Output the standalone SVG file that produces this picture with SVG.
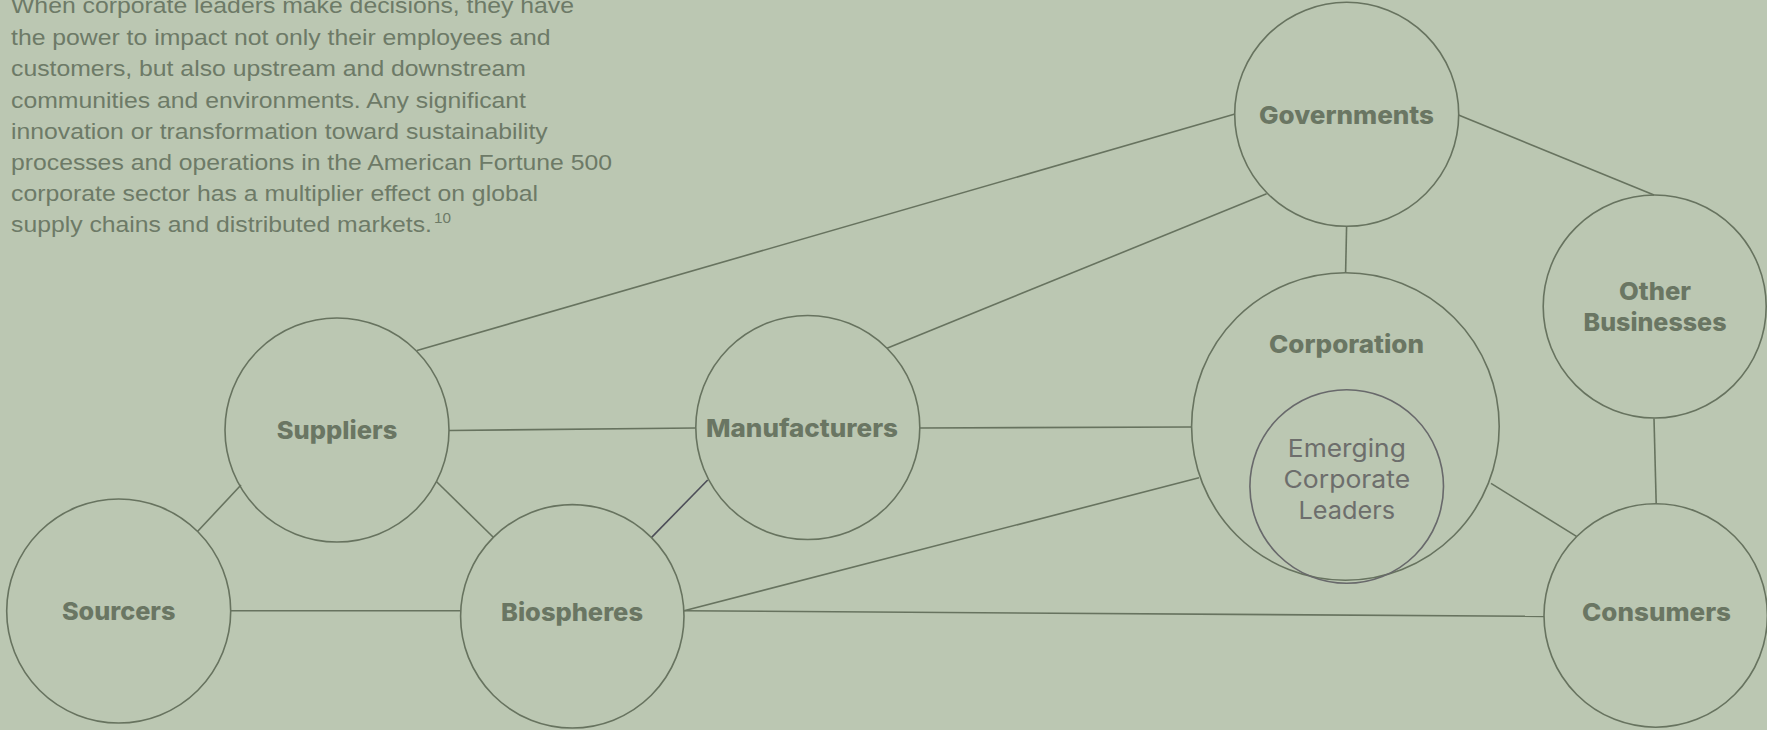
<svg xmlns="http://www.w3.org/2000/svg" width="1767" height="730" viewBox="0 0 1767 730">
  <defs>
    <style>
      .bg { fill: #bbc7b2; }
      .node { fill: none; stroke: #67735f; stroke-width: 1.6; }
      .inner { fill: none; stroke: #68696b; stroke-width: 1.6; }
      .edge { stroke: #67735f; stroke-width: 1.6; fill: none; }
      .edge.dark { stroke: #4d4e58; }
      .label { font-family: "Inter", "Noto Sans", "DejaVu Sans", sans-serif; font-weight: 800; font-size: 24.5px; fill: #6a7663; text-anchor: middle; }
      .sub { font-family: "Inter", "Noto Sans", "DejaVu Sans", sans-serif; font-weight: 400; font-size: 24.5px; fill: #6d6e6c; text-anchor: middle; }
      .para { font-family: "Liberation Sans", Arial, sans-serif; font-size: 22.5px; fill: #6d7a67; }
      .sup { font-family: "Liberation Sans", Arial, sans-serif; font-size: 15px; fill: #6d7a67; }
    </style>
  </defs>

  <rect class="bg" x="0" y="0" width="1767" height="730"/>

  <!-- introductory paragraph -->
  <g id="intro-text">
    <text class="para" x="11" y="13" textLength="563" lengthAdjust="spacingAndGlyphs">When corporate leaders make decisions, they have</text>
    <text class="para" x="11" y="45" textLength="539.5" lengthAdjust="spacingAndGlyphs">the power to impact not only their employees and</text>
    <text class="para" x="11" y="76.3" textLength="515" lengthAdjust="spacingAndGlyphs">customers, but also upstream and downstream</text>
    <text class="para" x="11" y="107.5" textLength="515" lengthAdjust="spacingAndGlyphs">communities and environments. Any significant</text>
    <text class="para" x="11" y="138.6" textLength="536.7" lengthAdjust="spacingAndGlyphs">innovation or transformation toward sustainability</text>
    <text class="para" x="11" y="169.8" textLength="601" lengthAdjust="spacingAndGlyphs">processes and operations in the American Fortune 500</text>
    <text class="para" x="11" y="201" textLength="527" lengthAdjust="spacingAndGlyphs">corporate sector has a multiplier effect on global</text>
    <text class="para" x="11" y="232.3" textLength="421" lengthAdjust="spacingAndGlyphs">supply chains and distributed markets.</text>
    <text class="sup" x="434" y="223" textLength="17" lengthAdjust="spacingAndGlyphs">10</text>
  </g>

  <!-- connectors between nodes -->
  <g id="connectors">
    <line class="edge" x1="1235" y1="114" x2="417" y2="350.5"/>
    <line class="edge" x1="1266.6" y1="193.8" x2="887" y2="348.2"/>
    <line class="edge" x1="1346.6" y1="226.3" x2="1345.6" y2="272.7"/>
    <line class="edge" x1="1458.5" y1="115" x2="1654" y2="195"/>
    <line class="edge" x1="1654" y1="418.5" x2="1656.2" y2="503.5"/>
    <line class="edge" x1="1491" y1="483.4" x2="1576.5" y2="536.4"/>
    <line class="edge" x1="919.5" y1="428" x2="1191.5" y2="427"/>
    <line class="edge" x1="449" y1="430.5" x2="695.5" y2="428"/>
    <line class="edge" x1="241" y1="485" x2="197.5" y2="531.5"/>
    <line class="edge" x1="436.6" y1="481.7" x2="493.3" y2="537.3"/>
    <line class="edge" x1="231" y1="610.7" x2="460.5" y2="610.7"/>
    <line class="edge dark" x1="707.7" y1="480" x2="651.6" y2="537.4"/>
    <line class="edge" x1="684" y1="610.8" x2="1199" y2="477.8"/>
    <line class="edge" x1="684" y1="610.8" x2="1544" y2="616.4"/>
  </g>

  <g id="governments">
    <circle class="node" cx="1346.7" cy="114.3" r="112"/>
    <text class="label" x="1346.5" y="124" textLength="175" lengthAdjust="spacingAndGlyphs">Governments</text>
  </g>

  <g id="other-businesses">
    <circle class="node" cx="1654.7" cy="306.5" r="111.5"/>
    <text class="label" x="1655" y="300" textLength="72" lengthAdjust="spacingAndGlyphs">Other</text>
    <text class="label" x="1655" y="331" textLength="143" lengthAdjust="spacingAndGlyphs">Businesses</text>
  </g>

  <g id="corporation">
    <circle class="node" cx="1345.4" cy="426.5" r="153.8"/>
    <text class="label" x="1346.5" y="353" textLength="155" lengthAdjust="spacingAndGlyphs">Corporation</text>
    <g id="emerging-corporate-leaders">
      <circle class="inner" cx="1346.7" cy="486.5" r="96.8"/>
      <text class="sub" x="1346.8" y="456.7" textLength="118" lengthAdjust="spacingAndGlyphs">Emerging</text>
      <text class="sub" x="1346.8" y="487.7" textLength="126.7" lengthAdjust="spacingAndGlyphs">Corporate</text>
      <text class="sub" x="1346.8" y="519.3" textLength="96.7" lengthAdjust="spacingAndGlyphs">Leaders</text>
    </g>
  </g>

  <g id="suppliers">
    <circle class="node" cx="337" cy="430" r="112"/>
    <text class="label" x="337" y="439.3" textLength="120.5" lengthAdjust="spacingAndGlyphs">Suppliers</text>
  </g>

  <g id="manufacturers">
    <circle class="node" cx="807.8" cy="427.5" r="112"/>
    <text class="label" x="802" y="436.8" textLength="192" lengthAdjust="spacingAndGlyphs">Manufacturers</text>
  </g>

  <g id="sourcers">
    <circle class="node" cx="118.7" cy="611" r="112"/>
    <text class="label" x="118.7" y="620" textLength="113.5" lengthAdjust="spacingAndGlyphs">Sourcers</text>
  </g>

  <g id="biospheres">
    <circle class="node" cx="572.3" cy="616.3" r="111.7"/>
    <text class="label" x="572" y="620.5" textLength="142" lengthAdjust="spacingAndGlyphs">Biospheres</text>
  </g>

  <g id="consumers">
    <circle class="node" cx="1655.7" cy="615.5" r="111.7"/>
    <text class="label" x="1656.5" y="621" textLength="149" lengthAdjust="spacingAndGlyphs">Consumers</text>
  </g>
</svg>
